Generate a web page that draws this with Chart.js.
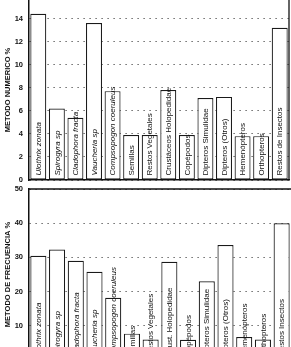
<!DOCTYPE html>
<html>
<head>
<meta charset="utf-8">
<script src="https://cdn.jsdelivr.net/npm/chart.js@4"></script>
<style>
  html, body { margin: 0; padding: 0; background: #fff; overflow: hidden; }
  #wrap { position: relative; width: 291px; height: 347px; overflow: hidden; }
  #numerico { position: absolute; left: 0; top: 0; }
  #frecuencia { position: absolute; left: 0; top: 183px; }
</style>
</head>
<body>
<div id="wrap">
  <canvas id="numerico" width="291" height="186"></canvas>
  <canvas id="frecuencia" width="291" height="182"></canvas>
</div>
<script>
const itemsTop = [
  'Ulothrix zonata', 'Spirogyra sp', 'Cladophora fracta', 'Vaucheria sp',
  'Compsopogon coeruleus', 'Semillas', 'Restos Vegetales', 'Crustáceos Holopedidae',
  'Copépodos', 'Dipteros Simulidae', 'Dipteros (Otros)', 'Hemenópteros',
  'Orthopteros', 'Restos de Insectos'
];
const itemsBottom = [
  'Ulothrix zonata', 'Spirogyra sp', 'Cladophora fracta', 'Vaucheria sp',
  'Compsopogon coeruleus', 'Semillas', 'Restos Vegetales', 'Crust. Holopedidae',
  'Copépodos', 'Dipteros Simulidae', 'Dipteros (Otros)', 'Hemenópteros',
  'Orthopteros', 'Restos Insectos'
];
// first five are species names, set in italics
const italic = [true, true, true, true, true, false, false, false, false, false, false, false, false, false];

const numerico = [14.4, 6.2, 5.4, 13.6, 7.7, 3.9, 3.9, 7.8, 3.9, 7.1, 7.2, 3.8, 3.8, 13.2];
const frecuencia = [30.5, 32.3, 29, 25.8, 18.2, 7.7, 6, 28.7, 5.9, 23, 33.6, 6.7, 6, 40];

const ticksNumerico = [0, 2, 4, 6, 8, 10, 12, 14];
const ticksFrecuencia = [10, 20, 30, 40, 50];

const barLabels = {
  id: 'barLabels',
  afterDatasetsDraw(chart) {
    const ctx = chart.ctx;
    const names = chart.data.labels;
    chart.getDatasetMeta(0).data.forEach((bar, i) => {
      ctx.save();
      ctx.translate(bar.x + 0.5, bar.base - 4);
      ctx.rotate(-Math.PI / 2);
      ctx.font = (italic[i] ? 'italic ' : '') + '8px "Liberation Sans", Arial, sans-serif';
      ctx.fillStyle = '#111';
      ctx.textAlign = 'left';
      ctx.textBaseline = 'middle';
      ctx.fillText(names[i], 0, 0);
      ctx.restore();
    });
  }
};

const frame = {
  id: 'frame',
  afterDraw(chart, args, opts) {
    const a = chart.chartArea;
    const ctx = chart.ctx;
    ctx.save();
    ctx.strokeStyle = '#111';
    ctx.lineWidth = 1.3;
    ctx.beginPath();
    if (opts.top) { ctx.moveTo(a.left, a.top); ctx.lineTo(a.right + 2, a.top); }
    if (opts.right) { ctx.moveTo(a.right, a.top); ctx.lineTo(a.right, a.bottom); }
    ctx.stroke();
    ctx.restore();
  }
};

function makeConfig(labels, values, tickList, max, title, pad, frameOpts) {
  return {
    type: 'bar',
    data: {
      labels: labels,
      datasets: [{
        data: values,
        backgroundColor: '#fff',
        borderColor: '#1a1a1a',
        borderWidth: 1.2,
        borderSkipped: false,
        barPercentage: 0.86,
        categoryPercentage: 1
      }]
    },
    options: {
      responsive: false,
      animation: false,
      layout: { padding: pad },
      plugins: { legend: { display: false }, tooltip: { enabled: false }, frame: frameOpts },
      scales: {
        x: {
          ticks: { display: false },
          grid: { display: false, drawTicks: false },
          border: { display: true, color: '#111', width: 1.5 }
        },
        y: {
          min: 0,
          max: max,
          afterBuildTicks: s => { s.ticks = tickList.map(v => ({ value: v })); },
          afterFit: s => { s.width = 29; s.paddingTop = 0; s.paddingBottom = 0; },
          ticks: {
            padding: 6,
            color: '#111',
            font: { family: '"Liberation Sans", Arial, sans-serif', size: 7.5, weight: 'bold' }
          },
          grid: { color: '#444', lineWidth: 1, drawTicks: false },
          border: { display: true, color: '#111', width: 1.5, dash: [1.2, 4.8] },
          title: {
            display: true,
            text: title,
            color: '#111',
            padding: { top: 3, bottom: 0 },
            font: { family: '"Liberation Sans", Arial, sans-serif', size: 7.5, weight: 'bold' }
          }
        }
      }
    },
    plugins: [barLabels, frame]
  };
}

new Chart(document.getElementById('numerico'),
  makeConfig(itemsTop, numerico, ticksNumerico, 15.6, 'METODO NUMERICO %',
    { top: 0, bottom: 6, left: 0, right: 2 }, { right: true }));

new Chart(document.getElementById('frecuencia'),
  makeConfig(itemsBottom, frecuencia, ticksFrecuencia, 50, 'METODO DE FRECUENCIA %',
    { top: 6, bottom: 5, left: 0, right: 0 }, { top: true }));
</script>
</body>
</html>
